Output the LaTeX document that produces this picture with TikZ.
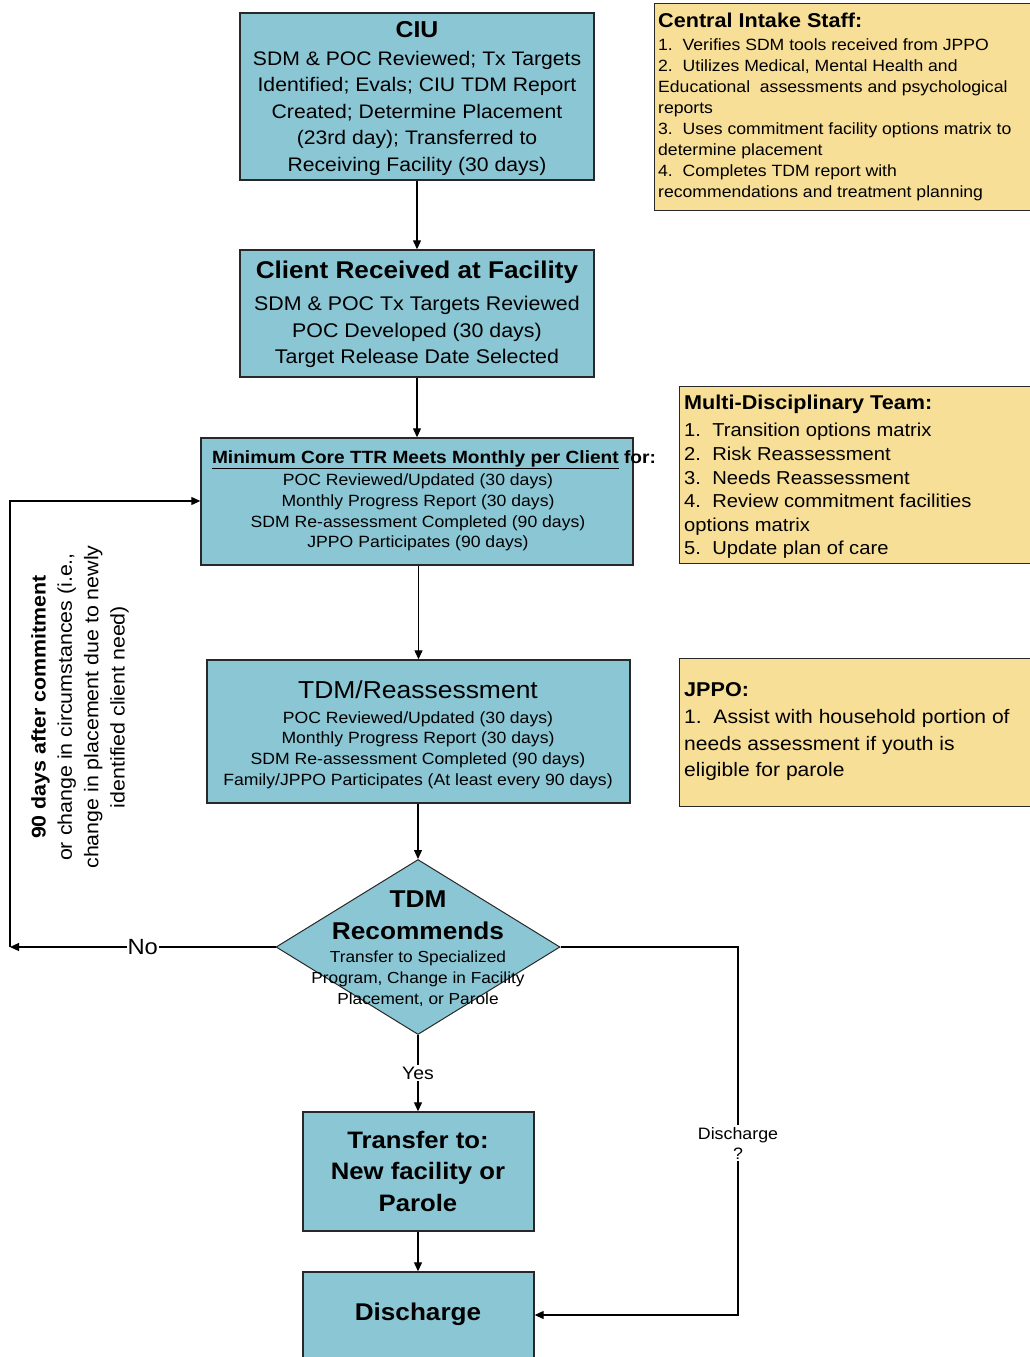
\documentclass[tikz,border=0pt]{standalone}
\usepackage{fontspec}
\setmainfont{Liberation Sans}[FakeStretch=1.08]
\usetikzlibrary{arrows.meta,shapes.geometric}
\definecolor{tealfill}{RGB}{138,198,212}
\definecolor{yellowfill}{RGB}{247,223,152}
\definecolor{edgecol}{RGB}{40,40,40}
\tikzset{
 tealbox/.style={draw=edgecol, fill=tealfill, line width=1.4pt, inner sep=0pt},
 yellowbox/.style={draw=edgecol, fill=yellowfill, line width=1.4pt, inner sep=0pt, anchor=north west},
 conn/.style={draw=black, line width=1.2pt, -{Triangle[length=9pt,width=8pt]}},
 txt/.style={align=center, inner sep=0pt},
 ltxt/.style={align=left, inner sep=0pt},
 lbl/.style={fill=white, inner sep=2pt},
}
\newcommand{\fs}[2]{\fontsize{#1}{#2}\selectfont}
\begin{document}
\begin{tikzpicture}[x=1pt,y=-1pt]
\useasboundingbox (0,0) rectangle (1029,1357);
% ---- main boxes
\node[tealbox, minimum width=354, minimum height=167] (ciu) at (417,96.5) {};
\node[txt, font=\fs{23}{26}\bfseries] (ciut) at (417,30) {CIU};
\node[txt, font=\fs{19.6}{26.5}] (ciub) at (417,113) {SDM \& POC Reviewed; Tx Targets\\Identified; Evals; CIU TDM Report\\Created; Determine Placement\\(23rd day); Transferred to\\Receiving Facility (30 days)};

\node[tealbox, minimum width=354, minimum height=127] (client) at (417,313.5) {};
\node[txt, font=\fs{24.2}{28}\bfseries] (clientt) at (417,272) {Client Received at Facility};
\node[txt, font=\fs{19.8}{26.5}] (clientb) at (417,332) {SDM \& POC Tx Targets Reviewed\\POC Developed (30 days)\\Target Release Date Selected};

\node[tealbox, minimum width=432, minimum height=127] (mincore) at (417,501.5) {};
\node[txt, font=\fs{17.7}{20}\bfseries] (mincoret) at (434,460) {\underline{Minimum Core TTR Meets Monthly per Client} for:};
\node[txt, font=\fs{16.3}{20.8}] (mincoreb) at (418,512.5) {POC Reviewed/Updated (30 days)\\Monthly Progress Report (30 days)\\SDM Re-assessment Completed (90 days)\\JPPO Participates (90 days)};

\node[tealbox, minimum width=423, minimum height=143] (tdmr) at (418.5,731.5) {};
\node[txt, font=\fs{24.5}{30}] (tdmrt) at (418,690) {TDM/Reassessment};
\node[txt, font=\fs{16.3}{20.7}] (tdmrb) at (418,750) {POC Reviewed/Updated (30 days)\\Monthly Progress Report (30 days)\\SDM Re-assessment Completed (90 days)\\Family/JPPO Participates (At least every 90 days)};

\node[diamond, draw=edgecol, fill=tealfill, line width=1pt, minimum width=284, minimum height=175, inner sep=0pt] (dia) at (418,947) {};
\node[txt, font=\fs{24.3}{32}\bfseries] (diat) at (418,915) {TDM\\Recommends};
\node[txt, font=\fs{16}{21}] (diab) at (418,979) {Transfer to Specialized\\Program, Change in Facility\\Placement, or Parole};

\node[tealbox, minimum width=231, minimum height=119] (transfer) at (418.5,1171.5) {};
\node[txt, font=\fs{23.8}{31.5}\bfseries] (transfert) at (418,1171) {Transfer to:\\New facility or\\Parole};

\node[tealbox, minimum width=231, minimum height=128] (discharge) at (418.5,1336) {};
\node[txt, font=\fs{24.2}{30}\bfseries] (discharget) at (418,1314) {Discharge};

% ---- side notes
\node[yellowbox, minimum width=386, minimum height=207] (cis) at (654,3) {};
\node[ltxt, anchor=west, font=\fs{20}{22}\bfseries] (cist) at (658,20) {Central Intake Staff:};
\node[ltxt, anchor=west, font=\fs{16.3}{21}] (cisb) at (658,119.5) {1.\ \ Verifies SDM tools received from JPPO\\2.\ \ Utilizes Medical, Mental Health and\\Educational\ \ assessments and psychological\\reports\\3.\ \ Uses commitment facility options matrix to\\determine placement\\4.\ \ Completes TDM report with\\recommendations and treatment planning};

\node[yellowbox, minimum width=361, minimum height=177] (mdt) at (679,386) {};
\node[ltxt, anchor=west, font=\fs{20}{22}\bfseries] (mdtt) at (684,404) {Multi-Disciplinary Team:};
\node[ltxt, anchor=west, font=\fs{18.7}{23.6}] (mdtb) at (684,491) {1.\ \ Transition options matrix\\2.\ \ Risk Reassessment\\3.\ \ Needs Reassessment\\4.\ \ Review commitment facilities\\options matrix\\5.\ \ Update plan of care};

\node[yellowbox, minimum width=361, minimum height=148] (jppo) at (679,658) {};
\node[ltxt, anchor=west, font=\fs{20}{22}\bfseries] (jppot) at (684,690) {JPPO:};
\node[ltxt, anchor=west, font=\fs{19.5}{26.5}] (jppob) at (684,745) {1.\ \ Assist with household portion of\\needs assessment if youth is\\eligible for parole};

% ---- rotated loop label
\node[txt, rotate=90, font=\fs{19.8}{26.3}] (looplbl) at (80,707) {\textbf{90 days after commitment}\\or change in circumstances (i.e.,\\change in placement due to newly\\identified client need)};

% ---- connectors
\coordinate (noc) at (10,947);
\coordinate (loopc) at (10,501);
\coordinate (dr1) at (738,947);
\coordinate (dr2) at (738,1315);

\draw[conn] (ciu.south) -- (client.north);
\draw[conn] (client.south) -- (mincore.north);
\draw[conn] (mincore.south -| tdmr.north) -- (tdmr.north);
\draw[conn] (tdmr.south -| dia.north) -- (dia.north);
\draw[conn] (dia.south) -- node[lbl, font=\fs{18}{20}] (yeslbl) {Yes} (transfer.north -| dia.south);
\draw[conn] (transfer.south -| dia.south) -- (discharge.north -| dia.south);
\draw[conn] (dia.west) -- node[lbl, font=\fs{22}{24}, inner sep=1pt] (nolbl) {No} (noc);
\draw[conn] (noc) -- (loopc) -- (loopc -| mincore.west);
\draw[conn] (dia.east) -- (dr1) -- node[lbl, pos=0.533, align=center, font=\fs{16.5}{20}] (dislbl) {Discharge\\?} (dr2) -- (dr2 -| discharge.east);
\end{tikzpicture}
\end{document}
